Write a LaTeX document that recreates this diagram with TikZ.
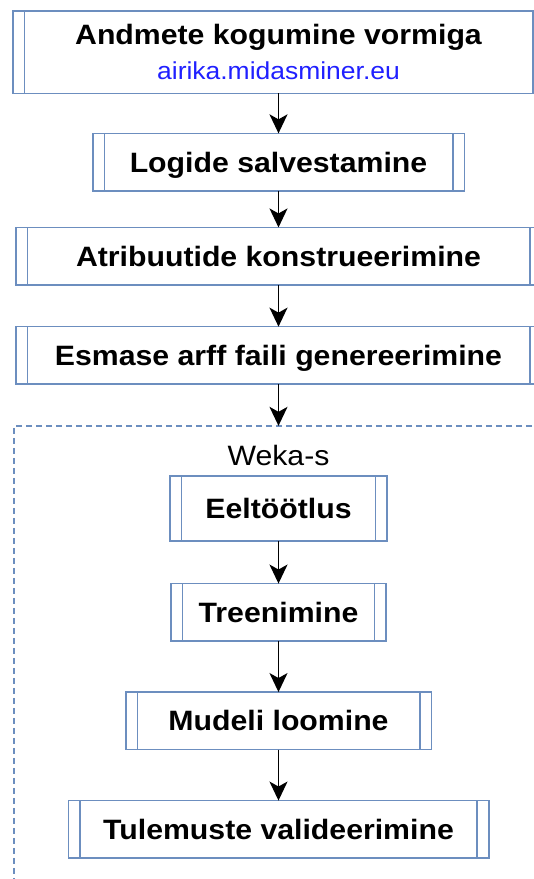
\documentclass[tikz,border=0pt]{standalone}
\usepackage{fontspec}
\setmainfont{Liberation Sans}[FakeStretch=1.08]
\usepackage{tikz}
\usetikzlibrary{positioning}
\usetikzlibrary{arrows.meta, positioning}
\definecolor{boxblue}{HTML}{6C8EBF}
\definecolor{linkblue}{HTML}{2020FF}

\begin{document}
\begin{tikzpicture}[
  node distance=40pt,
  procbox/.style={rectangle, draw=boxblue, line width=1.6pt, inner sep=0pt, outer sep=0pt, minimum height=57.5pt,
    font=\fontsize{28}{34.5}\selectfont\bfseries,
    path picture={
      \draw[boxblue, line width=1.6pt]
        ([xshift=11.6pt]path picture bounding box.north west) -- ([xshift=11.6pt]path picture bounding box.south west)
        ([xshift=-11.6pt]path picture bounding box.north east) -- ([xshift=-11.6pt]path picture bounding box.south east);
    }},
  proc/.style={procbox, text height=20pt, text depth=0pt},
  group/.style={rectangle, draw=boxblue, line width=1.5pt, dash pattern=on 6pt off 4pt, inner sep=0pt, outer sep=0pt,
    minimum width=529pt, minimum height=480pt},
  arrow/.style={-{Stealth[length=19pt, width=18pt, inset=5pt]}, line width=1.7pt}
]
  \path[use as bounding box] (0pt,0pt) rectangle (534pt,-879pt);
  \clip (0pt,0pt) rectangle (534pt,-879pt);

  % Andmete ettevalmistus
  \node[procbox, minimum width=531.6pt, minimum height=82.3pt, align=center] (kogumine) at (278.5pt,-52.2pt)
    {Andmete kogumine vormiga\\{\fontsize{24.5}{34.5}\selectfont\mdseries\color{linkblue}airika.midasminer.eu}};
  \node[proc, minimum width=371.6pt, below=40pt of kogumine] (logid) {Logide salvestamine};
  \node[proc, minimum width=525.6pt, below=36.6pt of logid] (atribuudid) {Atribuutide konstrueerimine};
  \node[proc, minimum width=525.6pt, below=41.7pt of atribuudid] (arff) {Esmase arff faili genereerimine};

  \draw[arrow] (kogumine) -- (logid);
  \draw[arrow] (logid) -- (atribuudid);
  \draw[arrow] (atribuudid) -- (arff);

  % Weka-s
  \node[group, below=41.7pt of arff] (weka) {};
  \node[inner sep=0pt, font=\fontsize{28}{34.5}\selectfont, text height=20pt, text depth=0pt,
    below=19.6pt of weka.north] (wekasilt) {Weka-s};
  \node[proc, minimum width=217pt, minimum height=65pt, below=10.4pt of wekasilt] (eeltootlus) {Eeltöötlus};
  \node[proc, minimum width=215pt, below=42.3pt of eeltootlus] (treenimine) {Treenimine};
  \node[proc, minimum width=305.6pt, below=51pt of treenimine] (mudel) {Mudeli loomine};
  \node[proc, minimum width=420.4pt, below=51pt of mudel] (valideerimine) {Tulemuste valideerimine};

  \draw[arrow] (arff) -- (weka);
  \draw[arrow] (eeltootlus) -- (treenimine);
  \draw[arrow] (treenimine) -- (mudel);
  \draw[arrow] (mudel) -- (valideerimine);
\end{tikzpicture}
\end{document}
